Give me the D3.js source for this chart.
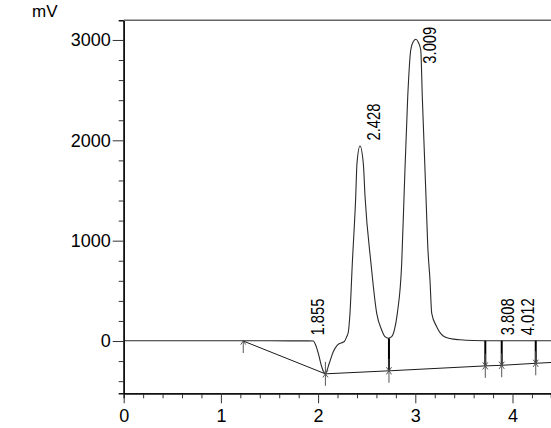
<!DOCTYPE html>
<html>
<head>
<meta charset="utf-8">
<script src="https://cdn.jsdelivr.net/npm/d3@7"></script>
<style>
  html, body { margin: 0; padding: 0; background: #fff; }
  svg { display: block; font-family: "Liberation Sans", Arial, sans-serif; }
</style>
</head>
<body>
<svg id="chart" width="551" height="428"></svg>
<script>
// ---- data ----
const signalTime = [0, 0.5, 1.0, 1.5, 1.9, 1.951, 1.975, 2.002, 2.037, 2.072, 2.115, 2.156, 2.198, 2.243, 2.27, 2.294, 2.311, 2.328, 2.352, 2.387, 2.400, 2.431, 2.465, 2.483, 2.544, 2.603, 2.654, 2.688, 2.722, 2.757, 2.785, 2.815, 2.860, 2.884, 2.922, 2.953, 2.980, 3.007, 3.032, 3.056, 3.072, 3.110, 3.128, 3.151, 3.169, 3.220, 3.288, 3.357, 3.460, 3.600, 3.800, 4.000, 4.396];
const signalMv   = [3, 3, 2, 2, 1, 0, -40, -123, -256, -327, -222, -107, -40, -17, -5, 43, 90, 276, 774, 1438, 1771, 1943, 1771, 1438, 774, 276, 110, 43, 27, 43, 110, 276, 774, 1438, 2435, 2900, 2985, 3007, 2975, 2900, 2435, 1438, 950, 608, 276, 143, 50, 25, 12, 5, 3, 3, 3];

const baseTime = [1.230, 2.075, 2.729, 3.720, 3.889, 4.239, 4.396];
const baseMv   = [0, -327, -297, -248, -242, -222, -214];
const baseMark = ["start", "both", "both", "both", "both", "both", "none"];

const dropTime  = [2.729, 3.720, 3.889, 4.239];
const dropTopMv = [27, 3, 3, 3];
const dropBotMv = [-297, -248, -242, -222];

const peakTime   = [1.855, 2.428, 3.009, 3.808, 4.012];
const peakHeight = [0, 1943, 3007, 3, 3];
const peakLabel  = ["1.855", "2.428", "3.009", "3.808", "4.012"];

const xMajorTicks = [0, 1, 2, 3, 4];
const xMinorTicks = [0.2, 0.4, 0.6, 0.8, 1.2, 1.4, 1.6, 1.8, 2.2, 2.4, 2.6, 2.8, 3.2, 3.4, 3.6, 3.8, 4.2];
const yMajorTicks = [0, 1000, 2000, 3000];
const yMinorTicks = [-400, -200, 200, 400, 600, 800, 1200, 1400, 1600, 1800, 2200, 2400, 2600, 2800];
const yUnit = "mV";

// ---- layout ----
const pLeft = 123.7, pRight = 551, pTop = 20.3, pBottom = 393.3;
const svg = d3.select("#chart");

const x = d3.scaleLinear().domain([0, 4.396]).range([pLeft, pRight]);
const y = d3.scaleLinear().domain([-521, 3196]).range([pBottom, pTop]);

// signal
const sig = signalTime.map((t, i) => [t, signalMv[i]]);
svg.append("path")
  .datum(sig)
  .attr("fill", "none")
  .attr("stroke", "#2a2a2a")
  .attr("stroke-width", 1.1)
  .attr("d", d3.line().x(d => x(d[0])).y(d => y(d[1])).curve(d3.curveMonotoneX));

// integration baseline
const base = baseTime.map((t, i) => [t, baseMv[i]]);
svg.append("path")
  .datum(base)
  .attr("fill", "none")
  .attr("stroke", "#1a1a1a")
  .attr("stroke-width", 1)
  .attr("d", d3.line().x(d => x(d[0])).y(d => y(d[1])));

// drop lines
svg.selectAll(".drop").data(dropTime).enter().append("line")
  .attr("class", "drop")
  .attr("x1", d => x(d)).attr("x2", d => x(d))
  .attr("y1", (d, i) => y(dropTopMv[i]))
  .attr("y2", (d, i) => y(dropBotMv[i]))
  .attr("stroke", "#000").attr("stroke-width", 2);

// markers
const mk = svg.append("g").attr("stroke", "#555").attr("stroke-width", 1).attr("fill", "none");
baseTime.forEach((t, i) => {
  const kind = baseMark[i];
  if (kind === "none") return;
  const px = x(t), py = y(baseMv[i]);
  const a = 2.6, b = 3.6, len = 12;
  mk.append("line").attr("x1", px).attr("x2", px)
    .attr("y1", kind === "both" ? py - len : py).attr("y2", py + len);
  mk.append("path").attr("d", `M${px - a},${py + b}L${px},${py}L${px + a},${py + b}`);
  if (kind === "both") {
    mk.append("path").attr("d", `M${px - a},${py - b}L${px},${py}L${px + a},${py - b}`);
  }
});

// peak labels
const labelLen = 37;
const minStart = pTop + 6.4 + labelLen;
peakTime.forEach((t, i) => {
  const bx = x(t) + 20;
  const by = Math.max(y(peakHeight[i]) - 5.5, minStart);
  svg.append("text")
    .attr("transform", `translate(${bx},${by}) rotate(-90)`)
    .attr("font-size", 18)
    .attr("textLength", labelLen)
    .attr("lengthAdjust", "spacingAndGlyphs")
    .attr("fill", "#000")
    .text(peakLabel[i]);
});

// axes
const gx = svg.append("g").attr("transform", `translate(0,${pBottom})`);
gx.call(d3.axisBottom(x).tickValues(xMinorTicks).tickSize(5).tickFormat(""));
const gx2 = svg.append("g").attr("transform", `translate(0,${pBottom})`);
gx2.call(d3.axisBottom(x).tickValues(xMajorTicks).tickSize(10).tickSizeOuter(0).tickPadding(6).tickFormat(d3.format("d")));
[gx, gx2].forEach(g => {
  g.selectAll("text").attr("font-size", 18).attr("fill", "#000").attr("font-family", "Liberation Sans, Arial, sans-serif");
  g.selectAll(".tick line").attr("stroke", "#333");
  g.selectAll(".domain").attr("stroke", "#111").attr("stroke-width", 1.5);
});

const gy = svg.append("g").attr("transform", `translate(${pLeft},0)`);
gy.call(d3.axisLeft(y).tickValues(yMinorTicks).tickSize(5).tickFormat(""));
const gy2 = svg.append("g").attr("transform", `translate(${pLeft},0)`);
gy2.call(d3.axisLeft(y).tickValues(yMajorTicks).tickSize(11).tickSizeOuter(0).tickPadding(2).tickFormat(d3.format("d")));
[gy, gy2].forEach(g => {
  g.selectAll("text").attr("font-size", 18).attr("fill", "#000").attr("font-family", "Liberation Sans, Arial, sans-serif");
  g.selectAll(".tick line").attr("stroke", "#333");
  g.selectAll(".domain").attr("stroke", "#111").attr("stroke-width", 1.5);
});

// top frame line
svg.append("line")
  .attr("x1", pLeft).attr("x2", pRight).attr("y1", pTop).attr("y2", pTop)
  .attr("stroke", "#666").attr("stroke-width", 1.5);

// unit label
svg.append("text").attr("x", 32).attr("y", 16.7).attr("font-size", 17).attr("fill", "#000").text(yUnit);
</script>
</body>
</html>
